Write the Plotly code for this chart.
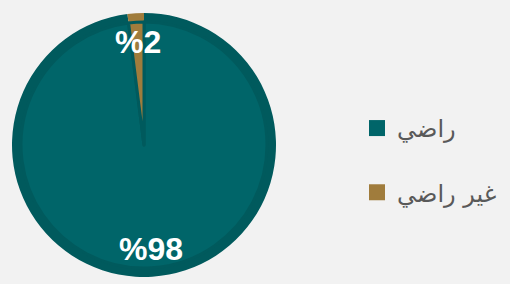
import plotly.graph_objects as go

labels = ["راضي", "غير راضي"]
values = [98, 2]
value_texts = ["%98", "%2"]

colors_main = ["#006569", "#a07c3c"]
colors_ring = ["#005a5d", "#a07c3c"]

W, H = 510, 284
cx, cy, r = 144, 145, 132
ring = 9

def dom(rad):
    return dict(x=[(cx - rad) / W, (cx + rad) / W],
                y=[1 - (cy + rad) / H, 1 - (cy - rad) / H])

fig = go.Figure()
fig.add_trace(go.Pie(labels=labels, values=values, sort=False, direction="clockwise",
                     rotation=0, marker=dict(colors=colors_ring, line=dict(width=0)),
                     textinfo="none", hoverinfo="skip", showlegend=False, domain=dom(r)))
fig.add_trace(go.Pie(labels=labels, values=values, sort=False, direction="clockwise",
                     rotation=0, marker=dict(colors=colors_main, line=dict(color="#005a5d", width=3)),
                     textinfo="none", showlegend=False, domain=dom(r - ring)))

# legend entries
for lab, col in zip(labels, colors_main):
    fig.add_trace(go.Scatter(x=[None], y=[None], mode="markers", name=lab,
                             legendgroup=lab,
                             marker=dict(symbol="square", size=19, color=col)))

# value labels
label_pos = [(151, 249), (138, 42)]
for t, (px, py) in zip(value_texts, label_pos):
    fig.add_annotation(x=px / W, y=1 - py / H, xref="paper", yref="paper",
                       xanchor="center", yanchor="middle",
                       text=t, showarrow=False,
                       font=dict(family="Liberation Sans", size=32, color="white", weight="bold"))

fig.update_layout(
    width=W, height=H, margin=dict(l=0, r=0, t=0, b=0),
    paper_bgcolor="#f2f2f2", plot_bgcolor="rgba(0,0,0,0)",
    xaxis=dict(visible=False), yaxis=dict(visible=False),
    legend=dict(x=0.70, y=0.435, xanchor="left", yanchor="middle",
                font=dict(family="DejaVu Sans", size=24, color="#595959"),
                tracegroupgap=30, bgcolor="rgba(0,0,0,0)"),
)
fig.write_html("out.html", config={"displayModeBar": False},
               post_script="document.body.style.margin='0';")
